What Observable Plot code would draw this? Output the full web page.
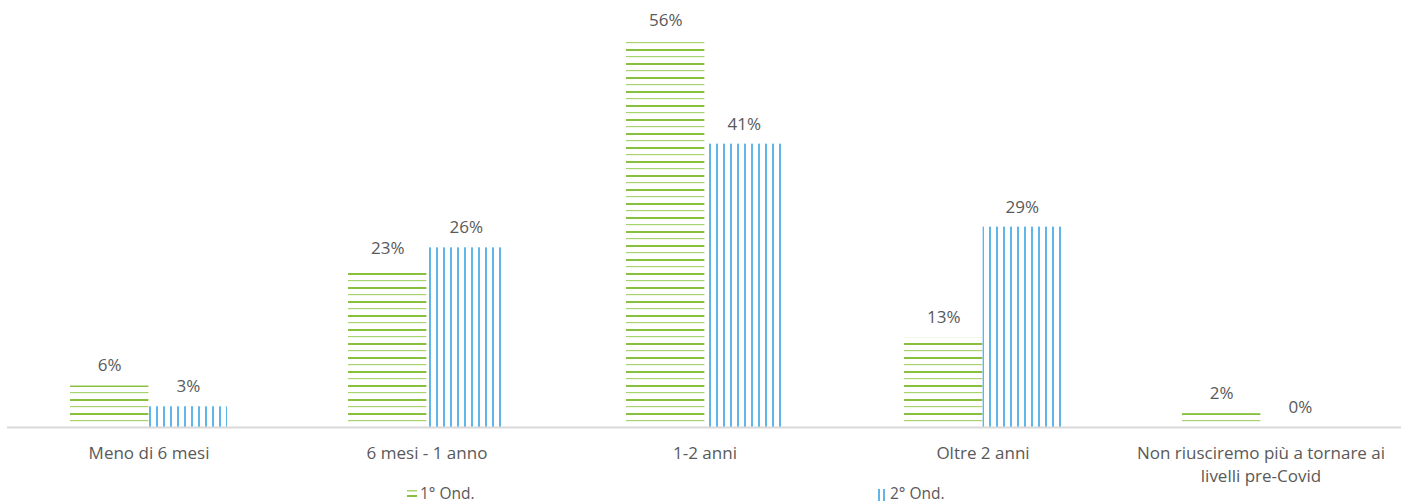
<!DOCTYPE html>
<html>
<head>
<meta charset="utf-8">
<script src="https://cdn.jsdelivr.net/npm/d3@7"></script>
<script src="https://cdn.jsdelivr.net/npm/@observablehq/plot@0.6"></script>
<style>
  html, body { margin: 0; padding: 0; background: #fff; }
  body { width: 1407px; height: 504px; overflow: hidden; font-family: "Open Sans", sans-serif; }
  #wrap { position: relative; width: 1407px; height: 504px; }
  .legend { position: absolute; top: 482px; left: 0; width: 1407px; height: 22px; font-size: 15.5px; color: #595959; }
  .item { position: absolute; display: flex; align-items: center; gap: 2px; white-space: nowrap; }
  .item svg { display: block; }
</style>
</head>
<body>
<svg width="0" height="0" style="position:absolute">
  <defs>
    <pattern id="hatchGreen" patternUnits="userSpaceOnUse" width="8" height="14">
      <rect x="0" y="0" width="8" height="1.2" fill="#a9d36e"></rect>
      <rect x="0" y="7" width="8" height="2" fill="#86c03c"></rect>
    </pattern>
    <pattern id="hatchBlue" patternUnits="userSpaceOnUse" width="7" height="8">
      <rect x="2" y="0" width="2" height="8" fill="#61b6e9"></rect>
    </pattern>
  </defs>
</svg>
<div id="wrap">
  <div id="chart"></div>
  <div class="legend">
    <div class="item" style="left:406px; top:0px;">
      <svg width="12" height="16"><rect x="1" y="5" width="10" height="1.5" fill="#a9d36e"></rect><rect x="1" y="10" width="10" height="2" fill="#86c03c"></rect></svg>
      <span id="lg1"></span>
    </div>
    <div class="item" style="left:876px; top:0px;">
      <svg width="12" height="16"><rect x="2" y="4" width="2" height="12" fill="#61b6e9"></rect><rect x="7" y="4" width="2" height="12" fill="#61b6e9"></rect></svg>
      <span id="lg2"></span>
    </div>
  </div>
</div>
<script>
const categories = ["Meno di 6 mesi", "6 mesi - 1 anno", "1-2 anni", "Oltre 2 anni", "Non riusciremo più a tornare ai\nlivelli pre-Covid"];
const seriesNames = ["1° Ond.", "2° Ond."];
const ond1 = [6, 23, 56, 13, 2];
const ond2 = [3, 26, 41, 29, 0];

const s1 = categories.map((c, i) => ({category: c, series: seriesNames[0], value: ond1[i]}));
const s2 = categories.map((c, i) => ({category: c, series: seriesNames[1], value: ond2[i]}));

document.getElementById("lg1").textContent = seriesNames[0];
document.getElementById("lg2").textContent = seriesNames[1];

const W = 1407, ML = 7, MR = 6;
const pInner = 0.436, pOuter = 0.218;
const step = (W - ML - MR) / (categories.length - pInner + 2 * pOuter);
const half = step * (1 - pInner) / 2;

const chart = Plot.plot({
  width: W,
  height: 504,
  marginLeft: ML,
  marginRight: MR,
  marginTop: 40,
  marginBottom: 77,
  style: {fontFamily: "Open Sans, sans-serif", fontSize: "17px", color: "#595959", background: "#fff"},
  x: {domain: categories, paddingInner: pInner, paddingOuter: pOuter, label: null},
  y: {domain: [0, 56], axis: null},
  marks: [
    Plot.barY(s1, {x: "category", y: "value", fill: "url(#hatchGreen)", insetLeft: 0, insetRight: half}),
    Plot.barY(s2, {x: "category", y: "value", fill: "url(#hatchBlue)", insetLeft: half, insetRight: 0}),
    Plot.text(s1, {x: "category", y: "value", text: d => d.value + "%", dx: -half / 2, dy: -20, fill: "#595959", fontSize: 17}),
    Plot.text(s2, {x: "category", y: "value", text: d => d.value + "%", dx: half / 2, dy: -20, fill: "#595959", fontSize: 17}),
    Plot.ruleY([0], {stroke: "#d9d9d9", strokeWidth: 2}),
    Plot.axisX({tickSize: 0, tickPadding: 16, fontSize: 17, lineHeight: 1.32, fill: "#595959", label: null})
  ]
});
document.getElementById("chart").appendChild(chart);
</script>
</body>
</html>
